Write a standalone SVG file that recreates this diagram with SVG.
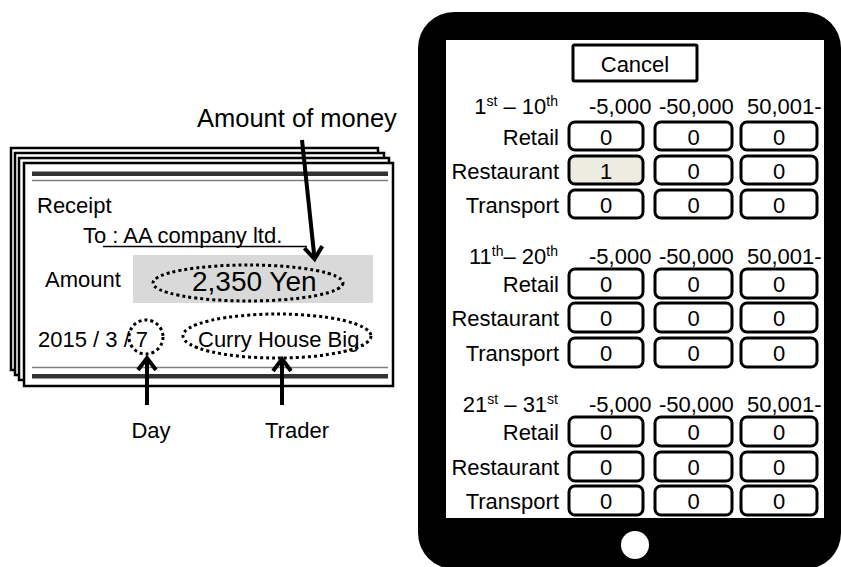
<svg xmlns="http://www.w3.org/2000/svg" width="841" height="567" viewBox="0 0 841 567">
<style>
text{font-family:"Liberation Sans",Arial,sans-serif;font-size:22px;fill:#000}
.sheet{fill:#fff;stroke:#000;stroke-width:2.5}
.dot{fill:none;stroke:#000;stroke-width:3;stroke-dasharray:3 3}
.box{fill:#fff;stroke:#000;stroke-width:3}
.num{text-anchor:middle}
.lbl{text-anchor:end}
.sup{font-size:14px}
.arrow{fill:none;stroke:#000;stroke-width:4}
</style>
<defs>
<marker id="ah" markerWidth="26" markerHeight="26" refX="13" refY="13" orient="auto" markerUnits="userSpaceOnUse">
<path d="M1,4 L13,13 L1,22" fill="none" stroke="#000" stroke-width="4"/>
</marker>
</defs>
<rect width="841" height="567" fill="#fff"/>

<g id="receipt">
<rect class="sheet" x="11" y="148" width="367" height="222"/>
<rect class="sheet" x="15" y="153" width="369" height="222"/>
<rect class="sheet" x="19" y="158" width="370" height="222"/>
<rect class="sheet" x="24" y="163" width="369" height="223"/>
<rect x="32" y="171.5" width="356" height="4.5" fill="#333"/>
<line x1="32" y1="180.5" x2="388" y2="180.5" stroke="#808080" stroke-width="1.5"/>
<line x1="32" y1="367.5" x2="388" y2="367.5" stroke="#808080" stroke-width="1.5"/>
<rect x="32" y="374" width="356" height="4.5" fill="#333"/>
<text x="37" y="213">Receipt</text>
<text x="83" y="243">To : AA company ltd.</text>
<line x1="103" y1="246.5" x2="307" y2="246.5" stroke="#000" stroke-width="1.4"/>
<text x="45" y="287">Amount</text>
<rect x="133" y="255" width="240" height="48" fill="#d9d9d9"/>
<text x="192" y="291" style="font-size:28px">2,350 Yen</text>
<ellipse class="dot" cx="248" cy="283" rx="95" ry="18"/>
<text x="38" y="347">2015 / 3 / 7</text>
<ellipse class="dot" cx="146" cy="337" rx="17" ry="17"/>
<text x="198" y="347">Curry House Big.</text>
<ellipse class="dot" cx="277" cy="336" rx="94" ry="22"/>
</g>

<g id="label-amount"><text x="197" y="127" style="font-size:25.5px">Amount of money</text></g>
<g id="label-day"><text x="151" y="438" text-anchor="middle">Day</text></g>
<g id="label-trader"><text x="297" y="438" text-anchor="middle">Trader</text></g>

<g id="connectors">
<line class="arrow" x1="302" y1="140" x2="314.6" y2="259" marker-end="url(#ah)"/>
<line class="arrow" x1="147" y1="405" x2="147" y2="358" marker-end="url(#ah)"/>
<line class="arrow" x1="282" y1="405" x2="282" y2="359" marker-end="url(#ah)"/>
</g>

<g id="tablet">
<rect x="418" y="12" width="423" height="557" rx="36" fill="#000"/>
<rect x="446" y="40" width="378" height="478" fill="#fff"/>
<circle cx="635" cy="545" r="14" fill="#fff"/>
</g>

<g id="cancel">
<rect x="573" y="45" width="124" height="36" fill="#fff" stroke="#000" stroke-width="3" rx="1.5"/>
<text x="635" y="72" class="num">Cancel</text>
</g>

<g id="section1">
<text x="558" y="114" class="lbl">1<tspan class="sup" dy="-8">st</tspan><tspan dy="8"> – 10</tspan><tspan class="sup" dy="-8">th</tspan></text>
<text x="589" y="114">-5,000</text>
<text x="659" y="114">-50,000</text>
<text x="747" y="114">50,001-</text>
<text x="559" y="145" class="lbl">Retail</text>
<text x="559" y="179" class="lbl">Restaurant</text>
<text x="559" y="213" class="lbl">Transport</text>
<rect class="box" x="569" y="122" width="74" height="28" rx="6"/>
<rect class="box" x="655" y="122" width="77" height="28" rx="6"/>
<rect class="box" x="741" y="122" width="76" height="28" rx="6"/>
<rect class="box" x="569" y="156" width="74" height="28" rx="6" style="fill:#eeece1"/>
<rect class="box" x="655" y="156" width="77" height="28" rx="6"/>
<rect class="box" x="741" y="156" width="76" height="28" rx="6"/>
<rect class="box" x="569" y="190" width="74" height="28" rx="6"/>
<rect class="box" x="655" y="190" width="77" height="28" rx="6"/>
<rect class="box" x="741" y="190" width="76" height="28" rx="6"/>
<text x="606" y="145" class="num">0</text><text x="693.5" y="145" class="num">0</text><text x="779" y="145" class="num">0</text>
<text x="606" y="179" class="num">1</text><text x="693.5" y="179" class="num">0</text><text x="779" y="179" class="num">0</text>
<text x="606" y="213" class="num">0</text><text x="693.5" y="213" class="num">0</text><text x="779" y="213" class="num">0</text>
</g>

<g id="section2">
<text x="558" y="264" class="lbl">11<tspan class="sup" dy="-8">th</tspan><tspan dy="8">– 20</tspan><tspan class="sup" dy="-8">th</tspan></text>
<text x="589" y="264">-5,000</text>
<text x="659" y="264">-50,000</text>
<text x="747" y="264">50,001-</text>
<text x="559" y="292" class="lbl">Retail</text>
<text x="559" y="326" class="lbl">Restaurant</text>
<text x="559" y="361" class="lbl">Transport</text>
<rect class="box" x="569" y="269" width="74" height="29" rx="6"/>
<rect class="box" x="655" y="269" width="77" height="29" rx="6"/>
<rect class="box" x="741" y="269" width="76" height="29" rx="6"/>
<rect class="box" x="569" y="303" width="74" height="29" rx="6"/>
<rect class="box" x="655" y="303" width="77" height="29" rx="6"/>
<rect class="box" x="741" y="303" width="76" height="29" rx="6"/>
<rect class="box" x="569" y="338" width="74" height="29" rx="6"/>
<rect class="box" x="655" y="338" width="77" height="29" rx="6"/>
<rect class="box" x="741" y="338" width="76" height="29" rx="6"/>
<text x="606" y="292" class="num">0</text><text x="693.5" y="292" class="num">0</text><text x="779" y="292" class="num">0</text>
<text x="606" y="326" class="num">0</text><text x="693.5" y="326" class="num">0</text><text x="779" y="326" class="num">0</text>
<text x="606" y="361" class="num">0</text><text x="693.5" y="361" class="num">0</text><text x="779" y="361" class="num">0</text>
</g>

<g id="section3">
<text x="558" y="412" class="lbl">21<tspan class="sup" dy="-8">st</tspan><tspan dy="8"> – 31</tspan><tspan class="sup" dy="-8">st</tspan></text>
<text x="589" y="412">-5,000</text>
<text x="659" y="412">-50,000</text>
<text x="747" y="412">50,001-</text>
<text x="559" y="440" class="lbl">Retail</text>
<text x="559" y="475" class="lbl">Restaurant</text>
<text x="559" y="509" class="lbl">Transport</text>
<rect class="box" x="569" y="417" width="74" height="29" rx="6"/>
<rect class="box" x="655" y="417" width="77" height="29" rx="6"/>
<rect class="box" x="741" y="417" width="76" height="29" rx="6"/>
<rect class="box" x="569" y="452" width="74" height="29" rx="6"/>
<rect class="box" x="655" y="452" width="77" height="29" rx="6"/>
<rect class="box" x="741" y="452" width="76" height="29" rx="6"/>
<rect class="box" x="569" y="486" width="74" height="29" rx="6"/>
<rect class="box" x="655" y="486" width="77" height="29" rx="6"/>
<rect class="box" x="741" y="486" width="76" height="29" rx="6"/>
<text x="606" y="440" class="num">0</text><text x="693.5" y="440" class="num">0</text><text x="779" y="440" class="num">0</text>
<text x="606" y="475" class="num">0</text><text x="693.5" y="475" class="num">0</text><text x="779" y="475" class="num">0</text>
<text x="606" y="509" class="num">0</text><text x="693.5" y="509" class="num">0</text><text x="779" y="509" class="num">0</text>
</g>
</svg>
